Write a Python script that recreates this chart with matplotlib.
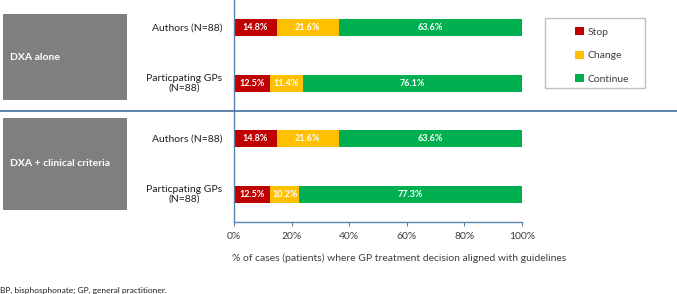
import matplotlib.pyplot as plt
from matplotlib.patches import Rectangle, Patch
from matplotlib.lines import Line2D

plt.rcParams['font.family'] = ['Lato', 'DejaVu Sans']

# data
rows = ['Authors (N=88)', 'Particpating GPs\n(N=88)', 'Authors (N=88)', 'Particpating GPs\n(N=88)']
groups = ['DXA alone', 'DXA + clinical criteria']
stop = [14.8, 12.5, 14.8, 12.5]
change = [21.6, 11.4, 21.6, 10.2]
cont = [63.6, 76.1, 63.6, 77.3]
series_names = ['Stop', 'Change', 'Continue']
colors = ['#C00000', '#FFC000', '#00B050']
xticks = [0, 20, 40, 60, 80, 100]

W, H = 677, 294
fig = plt.figure(figsize=(W / 100, H / 100), dpi=100)
ax = fig.add_axes([234 / W, 1 - 222 / H, (522 - 234) / W, 222 / H])

ypos = list(range(len(rows)))
left = [0] * len(rows)
for vals, col in zip([stop, change, cont], colors):
    bars = ax.barh(ypos, vals, left=left, height=0.31, color=col, edgecolor='none')
    for b, v, l in zip(bars, vals, left):
        ax.text(l + v / 2, b.get_y() + b.get_height() / 2, f'{v:.1f}%',
                ha='center', va='center', color='white', fontsize=6.5, fontweight='bold')
    left = [a + b for a, b in zip(left, vals)]

ax.set_xlim(0, 100)
ax.set_ylim(3.5, -0.5)
ax.set_xticks(xticks)
ax.set_xticklabels([f'{t}%' for t in xticks], fontsize=7.5, color='#404040')
ax.set_yticks([])
ax.tick_params(axis='x', length=3, color='#5a86ad', pad=4)
for s in ['top', 'right']:
    ax.spines[s].set_visible(False)
for s in ['left', 'bottom']:
    ax.spines[s].set_color('#5a86ad')
    ax.spines[s].set_linewidth(1)
ax.set_xlabel('% of cases (patients) where GP treatment decision aligned with guidelines',
              fontsize=7.5, color='#404040', labelpad=9, x=0.575)

# row labels
for y, lab in zip(ypos, rows):
    ax.text(-0.04, y, lab, transform=ax.get_yaxis_transform(), ha='right', va='center',
            multialignment='center', fontsize=7.5, color='#202020')

# separator line
sep_y = ax.transData.transform((0, 1.5))[1]
fig.add_artist(Line2D([0, 1], [sep_y / H, sep_y / H], transform=fig.transFigure,
                      color='#41719C', lw=1.2))

# grey group boxes
for (y0, y1), g in zip([(14, 100), (118, 210)], groups):
    fig.add_artist(Rectangle((3 / W, 1 - y1 / H), 124 / W, (y1 - y0) / H,
                             transform=fig.transFigure, facecolor='#7F7F7F', edgecolor='none'))
    fig.text(10 / W, 1 - (y0 + y1) / 2 / H, g, ha='left', va='center', color='white',
             fontsize=7.5, fontweight='bold')

# legend
fig.add_artist(Rectangle((545 / W, 1 - 88 / H), 100 / W, 70 / H, transform=fig.transFigure,
                         facecolor='white', edgecolor='#BFBFBF', lw=1))
handles = [Patch(facecolor=c, edgecolor='none') for c in colors]
fig.legend(handles, series_names, loc='upper left', bbox_to_anchor=(570 / W, 1 - 22 / H),
           frameon=False, fontsize=7.5, handlelength=0.8, handleheight=0.8,
           handletextpad=0.4, labelspacing=1.33, borderpad=0, labelcolor='#404040')

fig.text(0, 1 - 290 / H, 'BP, bisphosphonate; GP, general practitioner.', ha='left',
         va='center', fontsize=6, color='#202020')

fig.savefig('out.png', dpi=100)
